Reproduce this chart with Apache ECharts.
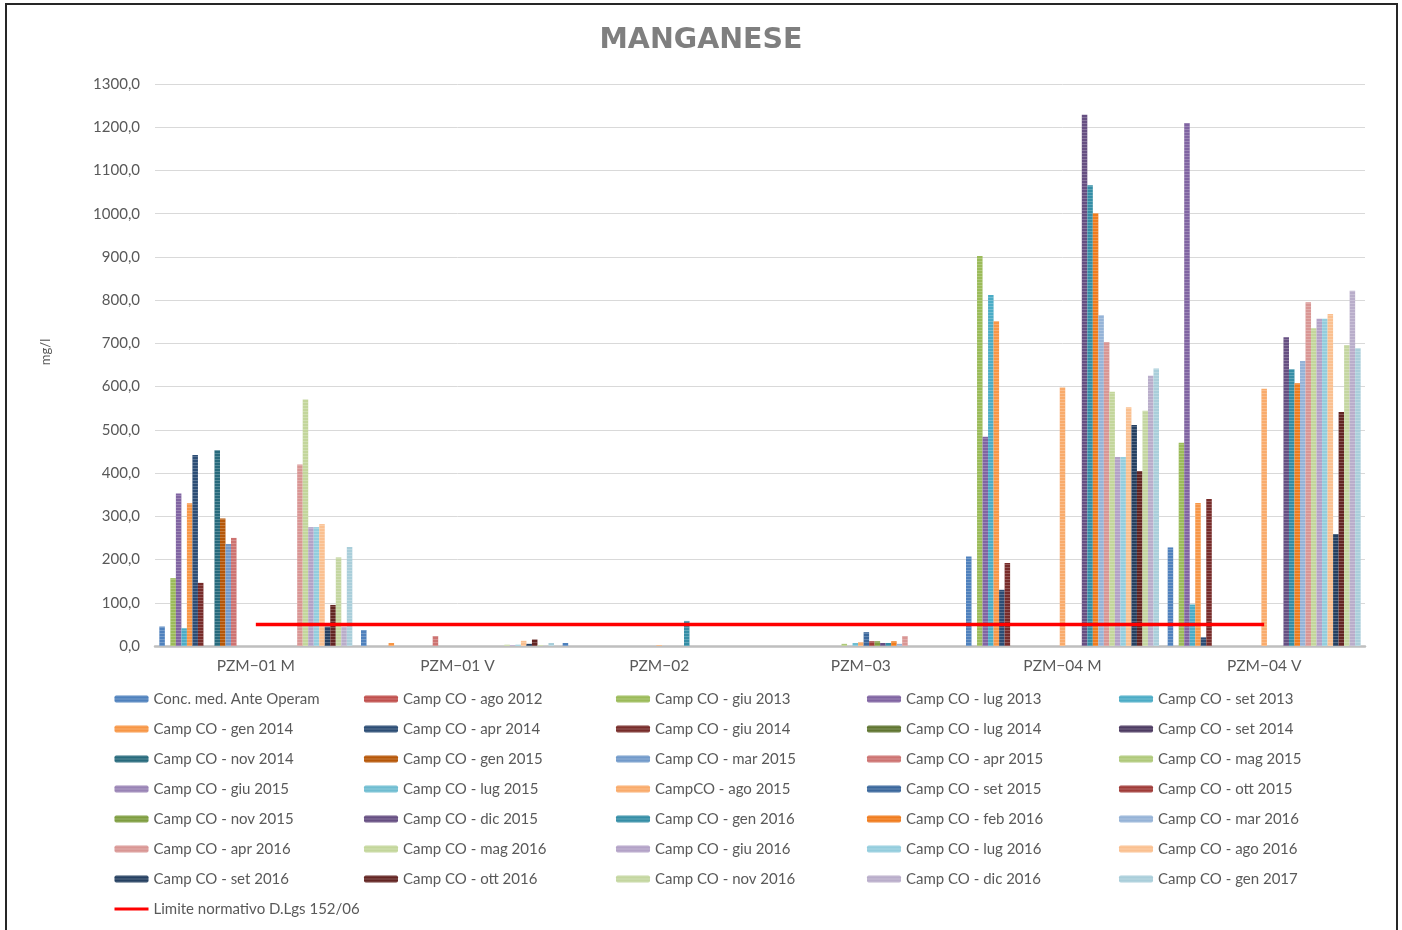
<!DOCTYPE html>
<html>
<head>
<meta charset="utf-8">
<script src="https://cdn.jsdelivr.net/npm/echarts@6/dist/echarts.min.js"></script>
<style>
html,body{margin:0;padding:0;background:#fff;}
#chart{width:1402px;height:930px;}
</style>
</head>
<body>
<div id="chart"></div>
<script>
// ---- DATA ----
const categories = ['PZM−01 M', 'PZM−01 V', 'PZM−02', 'PZM−03', 'PZM−04 M', 'PZM−04 V'];

const seriesNames = [
  'Conc. med. Ante Operam', 'Camp CO - ago 2012', 'Camp CO - giu 2013', 'Camp CO - lug 2013', 'Camp CO - set 2013',
  'Camp CO - gen 2014', 'Camp CO - apr 2014', 'Camp CO - giu 2014', 'Camp CO - lug 2014', 'Camp CO - set 2014',
  'Camp CO - nov 2014', 'Camp CO - gen 2015', 'Camp CO - mar 2015', 'Camp CO - apr 2015', 'Camp CO - mag 2015',
  'Camp CO - giu 2015', 'Camp CO - lug 2015', 'CampCO - ago 2015', 'Camp CO - set 2015', 'Camp CO - ott 2015',
  'Camp CO - nov 2015', 'Camp CO - dic 2015', 'Camp CO - gen 2016', 'Camp CO - feb 2016', 'Camp CO - mar 2016',
  'Camp CO - apr 2016', 'Camp CO - mag 2016', 'Camp CO - giu 2016', 'Camp CO - lug 2016', 'Camp CO - ago 2016',
  'Camp CO - set 2016', 'Camp CO - ott 2016', 'Camp CO - nov 2016', 'Camp CO - dic 2016', 'Camp CO - gen 2017'
];

// values per station, one entry per campaign (same order as seriesNames)
const valPZM01M = [45, null, 157, 353, 41, 330, 442, 146, null, null, 453, 295, 236, 250, null, null, null, null, null, null, null, null, null, null, null, 420, 570, 275, 275, 282, 45, 95, 205, 45, 229];
const valPZM01V = [37, null, null, null, null, 7, null, null, null, null, null, null, null, 23, null, null, null, null, null, null, null, null, null, null, null, null, 3, 2, 3, 12, 5, 15, 2, null, 7];
const valPZM02  = [7, null, null, null, null, null, null, null, null, null, null, null, null, null, null, null, null, 2, null, null, null, null, 58, null, null, null, null, null, null, null, null, null, null, null, null];
const valPZM03  = [null, null, null, null, null, null, null, null, null, null, null, null, null, null, 5, null, 7, 9, 32, 11, 11, 7, 7, 11, 5, 23, null, null, null, null, null, null, null, null, null];
const valPZM04M = [207, null, 902, 484, 812, 751, 130, 192, null, null, null, null, null, null, null, null, null, 598, null, null, null, 1229, 1066, 1001, 765, 703, 588, 437, 437, 552, 511, 405, 544, 625, 642];
const valPZM04V = [228, null, 470, 1210, 96, 331, 20, 340, null, null, null, null, null, null, null, null, null, 595, null, null, null, 714, 640, 608, 659, 795, 735, 757, 757, 768, 259, 541, 696, 822, 689];

const limitName = 'Limite normativo D.Lgs 152/06';
const limitValues = [50, 50, 50, 50, 50, 50];

const yTicks = { min: 0, max: 1300, interval: 100 };

// ---- STYLE ----
const colors = [
  '#4F81BD', '#C0504D', '#9BBB59', '#8064A2', '#4BACC6', '#F79646',
  '#2C4D75', '#772C2A', '#5F7530', '#4D3B62', '#276A7C', '#B65708',
  '#729ACA', '#CD7371', '#AFC97A', '#9983B5', '#6FBDD1', '#F9AB6B',
  '#3A679C', '#9F3B38', '#7E9D40', '#664F82', '#358EA6', '#F07C1E',
  '#95B3D7', '#D99694', '#C3D69B', '#B3A2C7', '#93CDDD', '#FAC090',
  '#254061', '#632523', '#C4D6A0', '#B9ADCA', '#A9CEDA'
];

const stationVals = [valPZM01M, valPZM01V, valPZM02, valPZM03, valPZM04M, valPZM04V];

const series = seriesNames.map((name, i) => ({
  name: name,
  type: 'bar',
  barGap: '0%',
  barCategoryGap: '4.3%',
  data: stationVals.map(v => v[i]),
  itemStyle: {
    color: colors[i],
    decal: { symbol: 'rect', symbolSize: 1, dashArrayX: [1, 0], dashArrayY: [1, 2], color: 'rgba(255,255,255,0.22)' }
  }
}));
series.push({
  name: limitName,
  type: 'line',
  data: limitValues,
  symbol: 'none',
  z: 10,
  lineStyle: { color: '#FF0000', width: 3.5 },
  itemStyle: { color: '#FF0000' }
});

const font = 'Lato, "Open Sans", sans-serif';
const colLefts = [113, 364, 616, 867, 1119];
const legends = colLefts.map((left, c) => {
  const data = seriesNames.filter((n, i) => i % 5 === c).map(n => ({ name: n }));
  if (c === 0) data.push({
    name: limitName,
    itemStyle: { color: 'rgba(0,0,0,0)', borderWidth: 0, opacity: 0 },
    lineStyle: { color: '#FF0000', width: 3 }
  });
  return {
    orient: 'vertical',
    left: left,
    top: 690,
    padding: 0,
    itemWidth: 34,
    itemHeight: 7,
    itemGap: 12,
    selectedMode: false,
    textStyle: { fontFamily: font, fontSize: 15, color: '#595959', lineHeight: 18 },
    data: data
  };
});

const chart = echarts.init(document.getElementById('chart'), null, { renderer: 'canvas' });
chart.setOption({
  animation: false,
  backgroundColor: '#fff',
  title: {
    text: 'MANGANESE',
    left: 'center',
    top: 21,
    textStyle: { fontFamily: '"DejaVu Sans", sans-serif', fontWeight: 'bold', fontSize: 28.5, color: '#7F7F7F' }
  },
  graphic: [
    {
      type: 'rect',
      shape: { x: 6, y: 4, width: 1391, height: 940 },
      style: { fill: 'none', stroke: '#262626', lineWidth: 2 },
      silent: true
    },
    {
      type: 'text',
      x: 46, y: 352,
      rotation: Math.PI / 2,
      style: { text: 'mg/l', fontFamily: font, fontSize: 13, fill: '#595959', align: 'center', verticalAlign: 'middle' },
      silent: true
    }
  ],
  legend: legends,
  grid: { left: 155, right: 37, top: 84, bottom: 284, containLabel: false },
  xAxis: {
    type: 'category',
    data: categories,
    axisTick: { show: false },
    axisLine: { lineStyle: { color: '#BFBFBF', width: 2.5 } },
    axisLabel: { fontFamily: font, fontSize: 15.5, color: '#595959', margin: 12 }
  },
  yAxis: {
    type: 'value',
    min: yTicks.min,
    max: yTicks.max,
    interval: yTicks.interval,
    axisLine: { show: false },
    axisTick: { show: false },
    splitLine: { lineStyle: { color: '#D9D9D9', width: 1 } },
    axisLabel: {
      fontFamily: font, fontSize: 15, color: '#595959', margin: 15,
      formatter: v => v.toFixed(1).replace('.', ',')
    }
  },
  series: series
});
</script>
</body>
</html>
